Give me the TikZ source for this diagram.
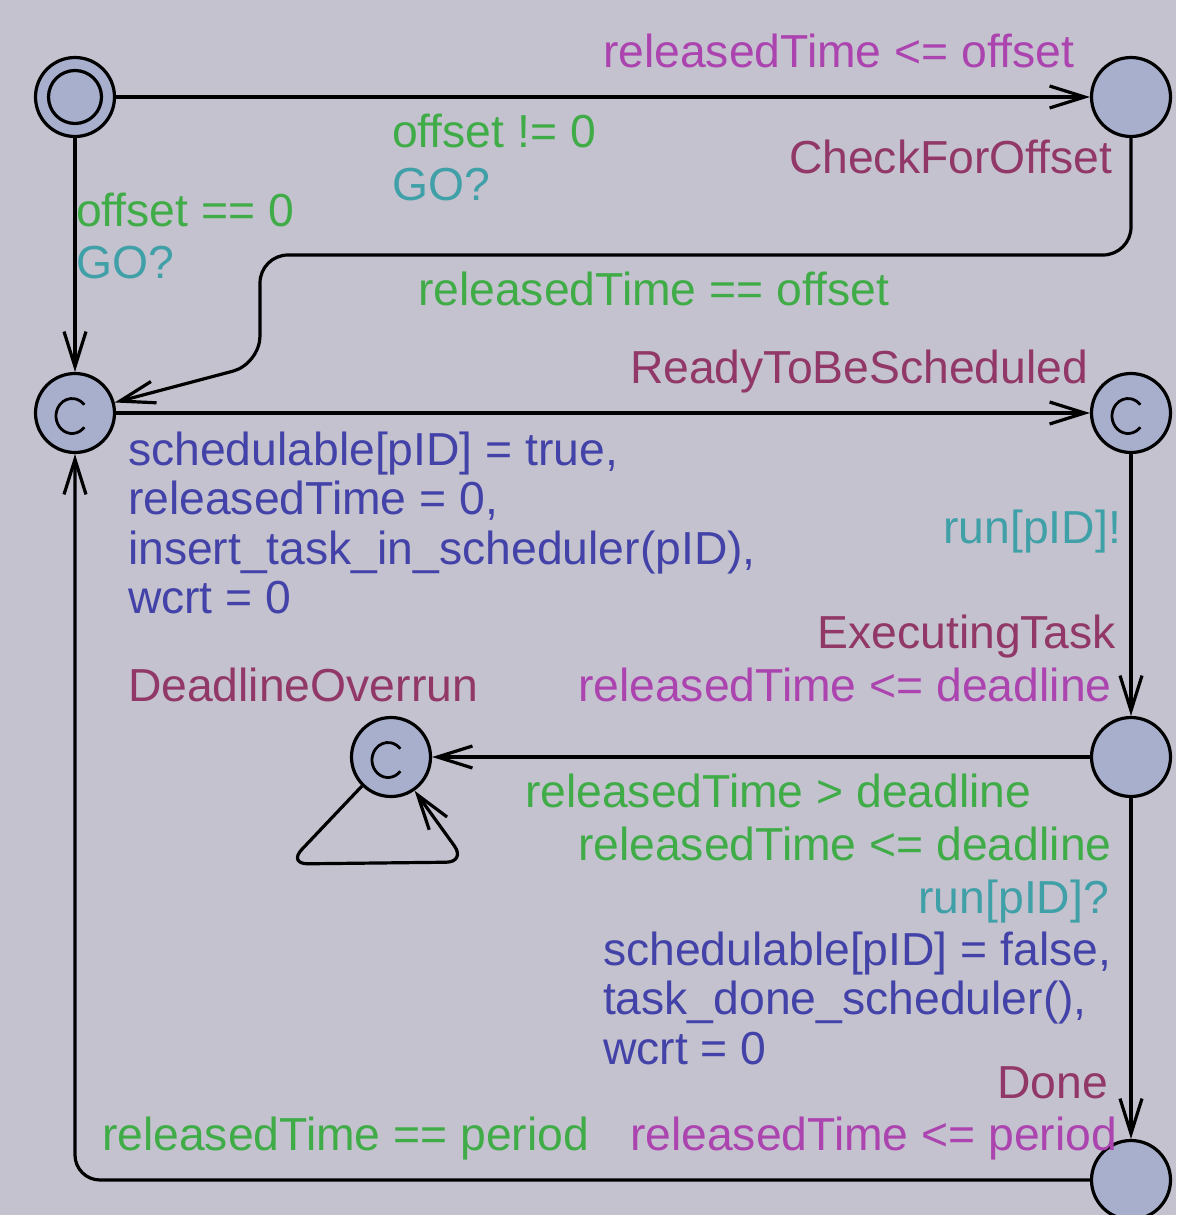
\documentclass[tikz,border=0pt]{standalone}
\usepackage{fontspec}
\setmainfont{Liberation Sans}
\usetikzlibrary{arrows.meta,calc}

\definecolor{bgcol}{RGB}{196,194,206}
\definecolor{locfill}{RGB}{168,175,204}
\definecolor{namecol}{RGB}{145,56,104}
\definecolor{invcol}{RGB}{172,68,176}
\definecolor{guardcol}{RGB}{64,172,72}
\definecolor{synccol}{RGB}{64,160,168}
\definecolor{assigncol}{RGB}{66,66,168}

\begin{document}
\begin{tikzpicture}[
  x=1pt, y=-1pt,
  font=\fontsize{46.3}{49.5}\selectfont,
  location/.style={circle, draw=black, fill=locfill, line width=3.2pt,
    minimum size=79pt, inner sep=0pt},
  initial loc/.style={location,
    path picture={\draw[line width=3.2pt] (path picture bounding box.center) circle[radius=26.5pt];}},
  committed/.style={location,
    path picture={\draw[line width=2.8pt]
      ($(path picture bounding box.center)+(-3,3)+(40:16 and 17.5)$)
      arc[start angle=40, end angle=320, x radius=16, y radius=17.5];}},
  edge/.style={line width=3.2pt, draw=black,
    -{Straight Barb[length=35pt, width=22pt]}},
  lbl/.style={inner sep=0pt, outer sep=0pt},
  locname/.style={lbl, text=namecol},
  invariant/.style={lbl, text=invcol},
  guard/.style={lbl, text=guardcol},
  sync/.style={lbl, text=synccol},
  assign/.style={lbl, text=assigncol},
]
  % canvas
  \fill[bgcol] (0,0) rectangle (1176,1215);
  \useasboundingbox (0,0) rectangle (1176,1215);

  % locations
  \node[initial loc] (init)    at (75,97)   {};
  \node[location]    (offset)  at (1131,97) {};
  \node[committed]   (release) at (75,413)  {};
  \node[committed]   (ready)   at (1131,413) {};
  \node[location]    (exec)    at (1131,757) {};
  \node[committed]   (overrun) at (391,757) {};
  \node[location]    (done)    at (1131,1180) {};

  % location names and invariants
  \node[invariant, anchor=base west] (invOffset) at (603,67) {releasedTime <= offset};
  \node[locname, anchor=base west] (nmOffset) at (789,173) {CheckForOffset};
  \node[locname, anchor=base west] (nmReady) at (630,383) {ReadyToBeScheduled};
  \node[locname, anchor=base east] (nmExec) at (1116,648) {ExecutingTask};
  \node[invariant, anchor=base west] (invExec) at (578,701) {releasedTime <= deadline};
  \node[locname, anchor=base west] (nmOverrun) at (128,701) {DeadlineOverrun};
  \node[locname, anchor=base east] (nmDone) at (1108,1098) {Done};
  \node[invariant, anchor=base west] (invDone) at (630,1150) {releasedTime <= period};

  % transitions
  \draw[edge] (init) -- (offset);
  \node[guard, anchor=base west] (gOffsetNZ) at (392,147) {offset != 0};
  \node[sync, anchor=base west] (sOffsetNZ) at (392,200) {GO?};

  \draw[edge] (init) -- (release);
  \node[guard, anchor=base west] (gOffsetZ) at (76,226) {offset == 0};
  \node[sync, anchor=base west] (sOffsetZ) at (76,278) {GO?};

  \draw[edge, rounded corners=28pt]
    (offset) -- (1131,255) -- (260,255) -- (260,364) -- (release);
  \node[guard, anchor=base west] (gReleased) at (418,305) {releasedTime == offset};

  \draw[edge] (release) -- (ready);
  \node[assign, anchor=base west] (aRelease) at (128,465)
    {\begin{tabular}[t]{@{}l@{}}
      schedulable[pID] = true,\\
      releasedTime = 0,\\
      insert\_task\_in\_scheduler(pID),\\
      wcrt = 0
    \end{tabular}};

  \draw[edge] (ready) -- (exec);
  \node[sync, anchor=base east] (sRun) at (1121,543) {run[pID]!};

  \draw[edge] (exec) -- (overrun);
  \node[guard, anchor=base west] (gOverrun) at (525,807) {releasedTime > deadline};

  \draw[edge, rounded corners=20pt]
    (overrun.225) -- (288,864) -- (466,862) -- (overrun.-55);

  \draw[edge] (exec) -- (done);
  \node[guard, anchor=base west] (gDone) at (578,860) {releasedTime <= deadline};
  \node[sync, anchor=base east] (sDone) at (1109,913) {run[pID]?};
  \node[assign, anchor=base west] (aDone) at (603,965)
    {\begin{tabular}[t]{@{}l@{}}
      schedulable[pID] = false,\\
      task\_done\_scheduler(),\\
      wcrt = 0
    \end{tabular}};

  \draw[edge, rounded corners=25pt] (done) -- (75,1180) -- (release);
  \node[guard, anchor=base west] (gPeriod) at (102,1150) {releasedTime == period};
\end{tikzpicture}
\end{document}
